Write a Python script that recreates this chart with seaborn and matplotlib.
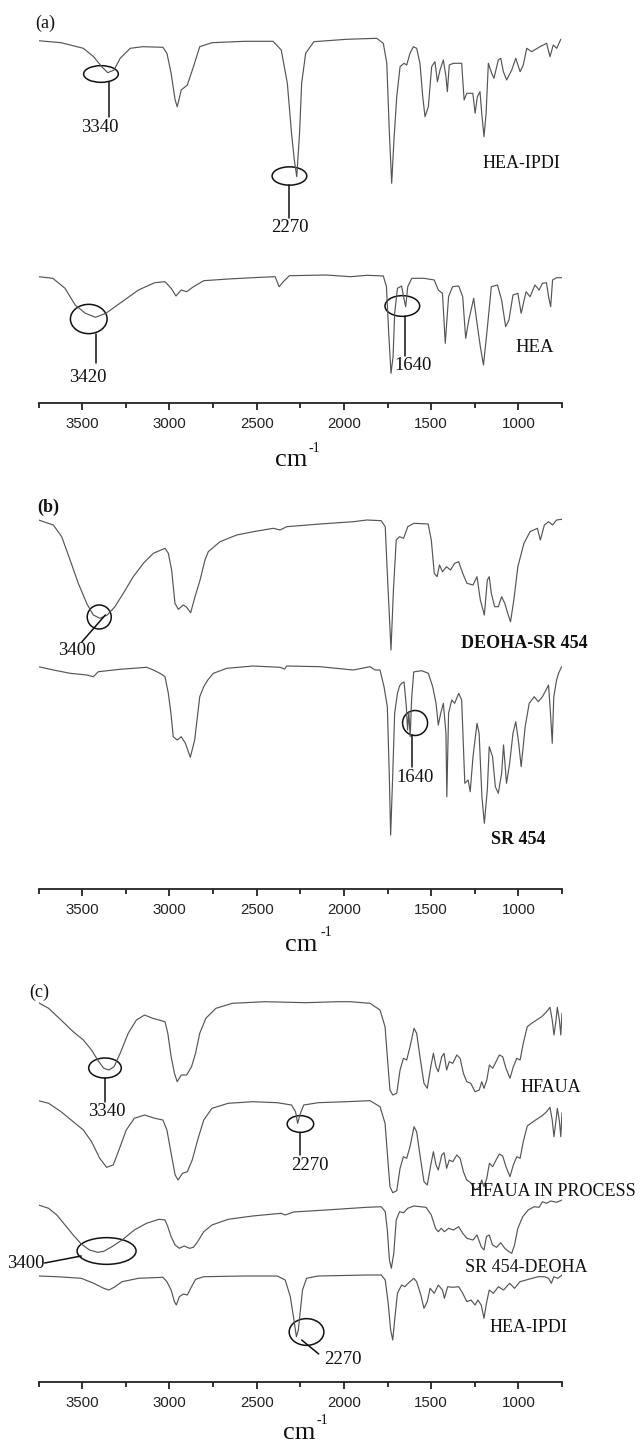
import matplotlib
matplotlib.use("Agg")
import matplotlib.pyplot as plt
from matplotlib.patches import Ellipse
import pandas as pd
import seaborn as sns

# ---------------- data (wavenumber cm-1, stacked signal in a.u., downward = absorption) -------------
a_ipdi_wn = [3750, 3621, 3493, 3434, 3388, 3353, 3317, 3282, 3224, 3154, 3037, 3014, 2990, 2967, 2955, 2932,
             2897, 2862, 2826, 2756, 2569, 2406, 2359, 2324, 2300, 2284, 2270, 2254, 2242, 2219, 2172, 1985,
             1812, 1774, 1754, 1740, 1726, 1713, 1697, 1678, 1655, 1640, 1621, 1602, 1583, 1564, 1548, 1535,
             1516, 1497, 1478, 1464, 1449, 1430, 1415, 1407, 1396, 1373, 1350, 1325, 1311, 1296, 1277, 1261,
             1248, 1235, 1220, 1210, 1197, 1185, 1172, 1153, 1140, 1115, 1101, 1086, 1067, 1038, 1015, 990,
             972, 952, 924, 876, 838, 819, 800, 780, 757]
a_ipdi_t = [40.7, 42.7, 48.3, 56.7, 66.7, 72.7, 70, 58.3, 48.3, 46.7, 47.3, 53.3, 73.3, 100, 106.7, 90,
            85, 66.7, 46.7, 42.7, 41.3, 41.3, 50, 83.3, 133.3, 160, 176.7, 133.3, 83.3, 53.3, 41.7, 39.3,
            38.3, 43.3, 63.3, 130, 183.3, 140, 96.7, 66.7, 63.3, 65, 53.3, 46.7, 48.3, 63.3, 96.7, 116.7,
            106.7, 66.7, 61.7, 81.7, 70, 60, 76.7, 91.7, 65, 63.3, 63.3, 63.3, 100, 93.3, 93.3, 93.3,
            113.3, 96.7, 91.7, 113.3, 136.7, 113.3, 63.3, 73.3, 78.3, 60, 58.3, 71.7, 80, 70, 58.3, 71.7,
            65, 48.3, 51.7, 46.7, 43.3, 56.7, 45, 48.3, 39.3]

a_hea_wn = [3750, 3668, 3598, 3540, 3481, 3423, 3364, 3271, 3177, 3084, 3025, 2990, 2962, 2932, 2901, 2862,
            2803, 2663, 2476, 2394, 2371, 2347, 2312, 2102, 1961, 1868, 1774, 1756, 1744, 1730, 1718, 1709,
            1693, 1669, 1658, 1646, 1634, 1611, 1541, 1482, 1459, 1435, 1419, 1400, 1377, 1342, 1319, 1302,
            1284, 1256, 1237, 1218, 1200, 1179, 1155, 1120, 1096, 1073, 1054, 1031, 1003, 984, 956, 933,
            905, 881, 862, 839, 827, 815, 804, 781, 750]
a_hea_t = [276.7, 278.3, 288.3, 305, 313.3, 317.3, 313.3, 301.7, 290, 282.7, 281.7, 288.3, 296, 290, 291.7, 286.7,
           280.7, 279, 277.3, 276.7, 286.7, 281.7, 275.7, 275, 276.7, 275.3, 276, 286.7, 330, 373.3, 356.7, 313.3,
           288.3, 286, 296.7, 306.7, 286.7, 278.3, 278.3, 280, 290, 293.3, 343.3, 296.7, 286.7, 286, 296.7, 338.3,
           320, 298.3, 323.3, 346.7, 365, 330, 286.7, 285, 300, 326.7, 320, 295, 293.3, 313.3, 291.7, 296.7,
           285, 290, 283.3, 282.7, 296.7, 306.7, 280, 277.7, 277.7]

b_deoha_wn = [3750, 3665, 3617, 3569, 3522, 3474, 3436, 3398, 3356, 3312, 3264, 3207, 3149, 3092, 3025, 3006,
              2987, 2968, 2949, 2920, 2901, 2878, 2853, 2824, 2796, 2777, 2710, 2614, 2519, 2404, 2366, 2328,
              2137, 1946, 1868, 1786, 1763, 1751, 1730, 1716, 1700, 1681, 1658, 1634, 1599, 1517, 1499, 1482,
              1466, 1452, 1435, 1412, 1389, 1365, 1342, 1319, 1295, 1260, 1237, 1218, 1195, 1178, 1167, 1155,
              1136, 1115, 1096, 1078, 1061, 1045, 1026, 1003, 968, 933, 891, 874, 851, 827, 804, 781, 750]
b_deoha_t = [520, 525, 536.7, 560, 583.3, 603.3, 615, 618.3, 615, 606.7, 593.3, 576.7, 563.3, 553.3, 548.3, 553.3,
             570, 603.3, 609.3, 605, 607.3, 612.7, 596.7, 580, 560, 551.7, 541.7, 535, 531.7, 528.3, 530, 526.7,
             524, 521.7, 520, 520.7, 526.7, 573.3, 650, 590, 540, 536.7, 538.3, 526.7, 523.3, 524, 540, 573.3,
             576.7, 565, 571.7, 566.7, 570, 563.3, 561.7, 573.3, 583.3, 585, 576.7, 600, 615, 580, 576.7, 593.3,
             606.7, 606.7, 596.7, 603.3, 613.3, 621.7, 600, 566.7, 543.3, 531.7, 528.3, 540, 525, 521.7, 525, 520, 519.3]

b_sr_wn = [3750, 3665, 3569, 3474, 3436, 3407, 3283, 3130, 3092, 3054, 3025, 3006, 2990, 2978, 2955, 2932,
           2908, 2880, 2855, 2826, 2803, 2780, 2748, 2671, 2519, 2366, 2340, 2328, 2137, 1946, 1850, 1821,
           1793, 1770, 1751, 1740, 1732, 1721, 1709, 1693, 1681, 1669, 1655, 1642, 1635, 1628, 1620, 1612,
           1600, 1592, 1554, 1516, 1491, 1472, 1459, 1445, 1430, 1415, 1410, 1400, 1382, 1365, 1342, 1325,
           1307, 1288, 1276, 1260, 1237, 1225, 1209, 1195, 1178, 1167, 1148, 1132, 1115, 1096, 1085, 1068,
           1050, 1031, 1015, 998, 984, 961, 938, 909, 886, 862, 827, 816, 806, 797, 781, 769, 752]
b_sr_t = [666.7, 670, 673.3, 675, 676.7, 671.7, 669.3, 667.3, 670, 673.3, 676.7, 693.3, 715, 736.7, 740, 736.7,
          743.3, 757.3, 740, 696.7, 686.7, 680, 673.3, 668.3, 666, 667.3, 669, 666, 666.7, 670, 666.7, 670,
          670, 686.7, 706.7, 773.3, 835, 780, 713.3, 693.3, 686, 683.3, 682, 706.7, 730, 712, 736.7, 700,
          672, 671.7, 670.7, 673.3, 686.7, 703.3, 725, 713.3, 703.3, 733.3, 796.7, 713.3, 700, 703.3, 693.3, 700,
          783.3, 780, 791.7, 756.7, 723.3, 733.3, 796.7, 823.3, 790, 746.7, 756.7, 786.7, 793.3, 773.3, 745, 783.3,
          763.3, 733.3, 721.7, 743.3, 766.7, 726.7, 703.3, 696.7, 701.7, 696.7, 685, 713.3, 743.3, 696.7, 680, 673, 666.7]

c_hfaua_wn = [3750, 3692, 3621, 3551, 3493, 3446, 3411, 3376, 3346, 3317, 3282, 3236, 3189, 3142, 3096, 3060,
              3025, 3009, 2990, 2971, 2955, 2932, 2901, 2873, 2850, 2826, 2791, 2733, 2639, 2452, 2219, 2032,
              1965, 1850, 1793, 1764, 1751, 1736, 1720, 1697, 1678, 1659, 1640, 1621, 1598, 1583, 1564, 1541,
              1522, 1502, 1487, 1472, 1459, 1439, 1426, 1411, 1396, 1376, 1353, 1334, 1315, 1296, 1273, 1248,
              1224, 1210, 1197, 1181, 1166, 1147, 1128, 1109, 1090, 1071, 1048, 1029, 1009, 990, 972, 949,
              924, 895, 866, 838, 819, 806, 796, 784, 777, 765, 757, 750]
c_hfaua_t = [1002.7, 1008.3, 1020, 1031.7, 1040, 1050, 1060, 1068.3, 1070, 1066.7, 1053.3, 1033.3, 1020, 1015, 1018.3, 1020,
             1021.7, 1033.3, 1056.7, 1073.3, 1081.7, 1075, 1075, 1066.7, 1053.3, 1033.3, 1018.3, 1008.3, 1003.3, 1001.7, 1002.7, 1001.7,
             1001.7, 1003.3, 1010, 1026.7, 1056.7, 1090, 1095, 1093.3, 1070, 1058.3, 1060, 1046.7, 1028.3, 1033.3, 1056.7, 1083.3,
             1088.3, 1066.7, 1053.3, 1066.7, 1071.7, 1056.7, 1053.3, 1070, 1061.7, 1063.3, 1055, 1058.3, 1073.3, 1081.7, 1083.3, 1091.7,
             1090, 1081.7, 1088.3, 1080, 1065, 1068.3, 1061.7, 1055, 1056.7, 1068.3, 1078.3, 1066.7, 1058.3, 1060, 1043.3, 1026.7,
             1023.3, 1020, 1016.7, 1011.7, 1007.3, 1020, 1035, 1020, 1007.3, 1020, 1035, 1013]

c_proc_wn = [3750, 3692, 3621, 3551, 3493, 3446, 3399, 3360, 3322, 3289, 3247, 3201, 3142, 3084, 3037, 3014,
             2990, 2967, 2950, 2925, 2897, 2869, 2838, 2803, 2756, 2663, 2523, 2382, 2300, 2277, 2265, 2249,
             2230, 2148, 1985, 1850, 1793, 1764, 1751, 1736, 1720, 1697, 1678, 1659, 1640, 1621, 1598, 1583,
             1564, 1541, 1522, 1502, 1487, 1472, 1459, 1439, 1426, 1411, 1396, 1376, 1353, 1334, 1315, 1296,
             1273, 1248, 1224, 1210, 1197, 1181, 1166, 1147, 1128, 1109, 1090, 1071, 1048, 1029, 1009, 990,
             972, 949, 924, 895, 866, 838, 819, 806, 796, 784, 777, 765, 757, 750]
c_proc_t = [1100.7, 1103.3, 1111.7, 1121.7, 1130, 1141.7, 1158.3, 1167.3, 1165, 1150, 1130, 1118.3, 1115, 1118.3, 1120, 1130,
            1153.3, 1175, 1180, 1173.3, 1171.7, 1160, 1140, 1120, 1108.3, 1103.3, 1101.7, 1102.7, 1105, 1111.7, 1123.3, 1113.3,
            1105, 1102.7, 1101.7, 1100.7, 1106.7, 1123.3, 1153.3, 1186.7, 1192.7, 1190.7, 1168.3, 1156.7, 1158.3, 1146.7, 1126.7, 1131.7,
            1155, 1181.7, 1185, 1165, 1151.7, 1165, 1170, 1155, 1152.7, 1168.3, 1160, 1161.7, 1155, 1158.3, 1171.7, 1180,
            1182.7, 1190, 1187.3, 1180, 1186.7, 1178.3, 1163.3, 1166.7, 1160, 1154, 1156, 1166.7, 1176.7, 1165, 1156.7, 1158.3,
            1141.7, 1126, 1122.7, 1119.3, 1116, 1111.7, 1107.3, 1120, 1136.7, 1120, 1108.3, 1120.7, 1136.7, 1113]

c_srd_wn = [3750, 3692, 3645, 3598, 3551, 3505, 3458, 3411, 3376, 3329, 3271, 3201, 3131, 3060, 3025, 3009,
            2990, 2967, 2943, 2915, 2885, 2862, 2838, 2803, 2756, 2663, 2523, 2359, 2336, 2289, 2102, 1868,
            1786, 1763, 1751, 1739, 1728, 1714, 1700, 1681, 1658, 1634, 1599, 1529, 1499, 1475, 1459, 1442,
            1424, 1400, 1372, 1342, 1319, 1295, 1260, 1237, 1213, 1197, 1183, 1167, 1148, 1125, 1101, 1078,
            1054, 1038, 1022, 1003, 975, 944, 909, 881, 862, 839, 815, 781, 750]
c_srd_t = [1205, 1208.3, 1215, 1225, 1235, 1244, 1250, 1252.3, 1251.3, 1246.7, 1240, 1230, 1223.3, 1219.3, 1220, 1226.7,
           1236.7, 1245, 1248.3, 1246, 1248.3, 1247.3, 1241.7, 1231.7, 1225, 1219.3, 1216, 1213.3, 1215, 1212, 1210, 1207.3,
           1206.7, 1211.7, 1230, 1260, 1268.3, 1253.3, 1220, 1211.7, 1212.7, 1208.3, 1206, 1207.3, 1215, 1228.3, 1231.7, 1228.3,
           1231.7, 1228.3, 1230, 1226.7, 1233.3, 1238.3, 1240, 1235, 1246.7, 1250, 1236.7, 1235, 1245, 1247.3, 1242.7, 1248.3,
           1251.7, 1253.3, 1245, 1228.3, 1216.7, 1210, 1206.7, 1207.3, 1201.7, 1203.3, 1201, 1202.3, 1200]

c_ipdi_wn = [3750, 3645, 3505, 3434, 3376, 3346, 3317, 3271, 3177, 3037, 3014, 2990, 2971, 2960, 2943, 2920,
             2897, 2873, 2850, 2803, 2569, 2382, 2336, 2307, 2289, 2272, 2261, 2251, 2237, 2214, 2148, 1868,
             1786, 1763, 1746, 1732, 1720, 1709, 1693, 1669, 1651, 1622, 1599, 1583, 1559, 1541, 1522, 1506,
             1482, 1459, 1435, 1424, 1405, 1377, 1342, 1319, 1295, 1272, 1248, 1232, 1213, 1197, 1183, 1167,
             1143, 1115, 1085, 1050, 1022, 991, 956, 921, 886, 851, 827, 811, 797, 774, 750]
c_ipdi_t = [1276, 1276.7, 1278.3, 1283.3, 1288.3, 1290, 1287.3, 1281.7, 1278.3, 1277.3, 1281.7, 1290, 1301.7, 1305, 1296.7, 1294,
            1295, 1286.7, 1279.3, 1276.7, 1276, 1276, 1280, 1296.7, 1316.7, 1336.7, 1330, 1313.3, 1290, 1278.3, 1276, 1275,
            1275, 1280, 1303.3, 1330, 1340, 1320, 1293.3, 1285, 1286.7, 1281.7, 1278.3, 1281.7, 1295, 1308.3, 1301.7, 1288.3,
            1293.3, 1285, 1290, 1298.3, 1286.7, 1287.3, 1286.7, 1293.3, 1301.7, 1300, 1305, 1300, 1305, 1318.3, 1303.3, 1290,
            1293.3, 1286.7, 1290, 1283.3, 1288.3, 1281.7, 1280, 1278.3, 1276.7, 1276.7, 1278.3, 1283.3, 1276.7, 1278.3, 1275]

tick_major = [3500, 3000, 2500, 2000, 1500, 1000]
tick_minor = [3750, 3250, 2750, 2250, 1750, 1250, 750]
tick_labels = ["3500", "3000", "2500", "2000", "1500", "1000"]

# ---------------- style ----------------
sns.set_theme(style="ticks")
plt.rcParams['font.family'] = ['Liberation Serif', 'DejaVu Serif']

W, H = 640, 1442
fig = plt.figure(figsize=(W / 100, H / 100), dpi=100)
fig.patch.set_facecolor('white')

LINE = '#555555'
PX = 5.731  # cm-1 per pixel (layout helper for annotation sizes)


def make_panel(top_px, axis_px):
    ax = fig.add_axes([38.5 / W, 1 - axis_px / H, 523.5 / W, (axis_px - top_px) / H])
    ax.set_xlim(3750, 750)
    ax.set_ylim(axis_px, top_px)
    ax.set_facecolor('none')
    for s in ['left', 'right', 'top']:
        ax.spines[s].set_visible(False)
    ax.spines['bottom'].set_linewidth(1.3)
    ax.spines['bottom'].set_color('#222222')
    ax.set_yticks([])
    ax.set_xticks(tick_major)
    ax.set_xticks(tick_minor, minor=True)
    ax.set_xticklabels(tick_labels, fontfamily='Liberation Sans', fontsize=10.8, color='#222222')
    ax.tick_params(axis='x', which='major', direction='out', length=5, width=1.3, color='#222222', pad=5)
    ax.tick_params(axis='x', which='minor', direction='out', length=3.5, width=1.3, color='#222222')
    return ax


def spectrum(ax, wn, t):
    df = pd.DataFrame({'wn': wn, 't': t})
    sns.lineplot(data=df, x='wn', y='t', ax=ax, sort=False, estimator=None,
                 color=LINE, lw=0.85)
    ax.set_xlabel('')
    ax.set_ylabel('')


def txt(ax, x, y, s, size=13.5, weight='normal', ha='center'):
    ax.text(x, y, s, fontsize=size, fontweight=weight, ha=ha, va='center',
            color='#111111', clip_on=False)


def ell(ax, x, y, wpx, hpx):
    ax.add_patch(Ellipse((x, y), width=wpx * PX, height=hpx, fill=False,
                         ec='#111111', lw=1.1, clip_on=False))


def lead(ax, x1, y1, x2, y2):
    ax.plot([x1, x2], [y1, y2], color='#111111', lw=1.1, clip_on=False)


def xlabel(ax, x_cm, y_cm, x_sup, y_sup):
    ax.text(x_cm, y_cm, 'cm', fontsize=19, ha='center', va='center', color='#111111', clip_on=False)
    ax.text(x_sup, y_sup, '-1', fontsize=10, ha='center', va='center', color='#111111', clip_on=False)


# ---------------- panel (a) ----------------
ax_a = make_panel(0, 403)
spectrum(ax_a, a_ipdi_wn, a_ipdi_t)
spectrum(ax_a, a_hea_wn, a_hea_t)
txt(ax_a, 3710, 23, '(a)', size=13)
ell(ax_a, 3392, 74, 34.7, 16.7)
lead(ax_a, 3345, 82, 3345, 117)
txt(ax_a, 3397, 127, '3340')
ell(ax_a, 2312, 176, 34.7, 18.3)
lead(ax_a, 2312, 185, 2312, 218)
txt(ax_a, 2312, 228, '2270')
txt(ax_a, 980, 163, 'HEA-IPDI', size=13)
ell(ax_a, 3462, 319, 36.7, 29.3)
lead(ax_a, 3420, 334, 3420, 363)
txt(ax_a, 3469, 377, '3420')
ell(ax_a, 1665, 306, 34.7, 20.7)
lead(ax_a, 1650, 316, 1650, 356)
txt(ax_a, 1605, 365, '1640')
txt(ax_a, 905, 348, 'HEA', size=13.5)
xlabel(ax_a, 2300, 460, 2172, 448)

# ---------------- panel (b) ----------------
ax_b = make_panel(470, 889.3)
spectrum(ax_b, b_deoha_wn, b_deoha_t)
spectrum(ax_b, b_sr_wn, b_sr_t)
txt(ax_b, 3692, 507, '(b)', size=13, weight='bold')
ell(ax_b, 3402, 617, 24, 24)
lead(ax_b, 3367, 615, 3502, 642)
txt(ax_b, 3531, 651, '3400')
txt(ax_b, 968, 644, 'DEOHA-SR 454', size=13, weight='bold')
ell(ax_b, 1592, 723, 25, 25)
lead(ax_b, 1608, 735, 1608, 767)
txt(ax_b, 1592, 778, '1640')
txt(ax_b, 1002, 840, 'SR 454', size=13, weight='bold')
xlabel(ax_b, 2242, 945, 2102, 933)

# ---------------- panel (c) ----------------
ax_c = make_panel(960, 1381.7)
spectrum(ax_c, c_hfaua_wn, c_hfaua_t)
spectrum(ax_c, c_proc_wn, c_proc_t)
spectrum(ax_c, c_srd_wn, c_srd_t)
spectrum(ax_c, c_ipdi_wn, c_ipdi_t)
txt(ax_c, 3745, 992, '(c)', size=13)
ell(ax_c, 3369, 1068, 32.6, 20)
lead(ax_c, 3369, 1078, 3369, 1102)
txt(ax_c, 3360, 1112, '3340')
txt(ax_c, 816, 1087, 'HFAUA', size=13)
ell(ax_c, 2249, 1124, 26.5, 16.7)
lead(ax_c, 2249, 1133, 2249, 1155)
txt(ax_c, 2195, 1166, '2270')
txt(ax_c, 801, 1192, 'HFAUA IN PROCESS', size=13)
txt(ax_c, 956, 1267, 'SR 454-DEOHA', size=13)
ell(ax_c, 3360, 1251, 59, 26.7)
lead(ax_c, 3505, 1256, 3715, 1263)
txt(ax_c, 3820, 1263, '3400')
txt(ax_c, 944, 1327, 'HEA-IPDI', size=13)
ell(ax_c, 2214, 1332, 34.7, 26.7)
lead(ax_c, 2242, 1340, 2144, 1354)
txt(ax_c, 2008, 1360, '2270')
xlabel(ax_c, 2254, 1433, 2125, 1420)

fig.savefig('out.png', dpi=100, facecolor='white')
